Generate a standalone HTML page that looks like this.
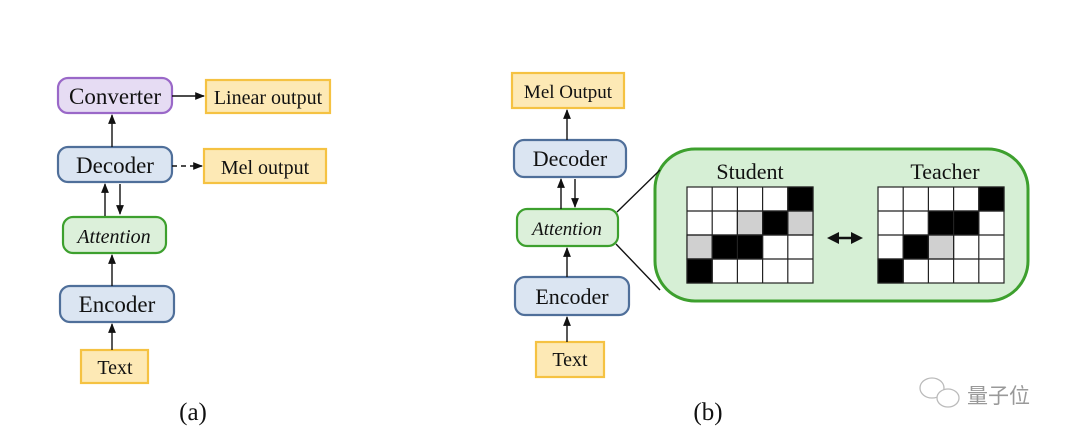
<!DOCTYPE html>
<html><head><meta charset="utf-8"><style>
html,body{margin:0;padding:0;background:#fff;}
svg{display:block;}
text{font-family:"Liberation Serif",serif;fill:#111;}
</style></head><body>
<svg width="1080" height="440" viewBox="0 0 1080 440" xmlns="http://www.w3.org/2000/svg">
<defs>
<marker id="ah" viewBox="0 0 10 10" refX="9" refY="5" markerWidth="7" markerHeight="7" orient="auto-start-reverse"><path d="M0,1 L10,5 L0,9 z" fill="#111"/></marker>
</defs>
<g stroke-width="2.2">
<rect x="58" y="78" width="114" height="35" rx="10" fill="#e6dcf3" stroke="#9a68c8"/>
<rect x="206" y="80" width="124" height="33" fill="#fde9b5" stroke="#f5c242"/>
<rect x="58" y="147" width="114" height="35" rx="10" fill="#dbe5f2" stroke="#4f6f9a"/>
<rect x="204" y="149" width="122" height="34" fill="#fde9b5" stroke="#f5c242"/>
<rect x="63" y="217" width="103" height="36" rx="10" fill="#dcf0da" stroke="#3da02e"/>
<rect x="60" y="286" width="114" height="36" rx="10" fill="#dbe5f2" stroke="#4f6f9a"/>
<rect x="81" y="350" width="67" height="33" fill="#fde9b5" stroke="#f5c242"/>
<rect x="512" y="73" width="112" height="35" fill="#fde9b5" stroke="#f5c242"/>
<rect x="514" y="140" width="112" height="37" rx="10" fill="#dbe5f2" stroke="#4f6f9a"/>
<rect x="517" y="209" width="101" height="37" rx="10" fill="#dcf0da" stroke="#3da02e"/>
<rect x="515" y="277" width="114" height="38" rx="10" fill="#dbe5f2" stroke="#4f6f9a"/>
<rect x="536" y="342" width="68" height="35" fill="#fde9b5" stroke="#f5c242"/>
<rect x="655" y="149" width="373" height="152" rx="40" fill="#d6efd5" stroke="#3da02e" stroke-width="3"/>
</g>
<g stroke="#111" stroke-width="1.4" fill="none">
<line x1="172" y1="96" x2="204" y2="96" marker-end="url(#ah)"/>
<line x1="112" y1="147" x2="112" y2="115" marker-end="url(#ah)"/>
<line x1="172" y1="166" x2="202" y2="166" stroke-dasharray="5,4" marker-end="url(#ah)"/>
<line x1="105" y1="216" x2="105" y2="184" marker-end="url(#ah)"/>
<line x1="120" y1="184" x2="120" y2="214" marker-end="url(#ah)"/>
<line x1="112" y1="286" x2="112" y2="255" marker-end="url(#ah)"/>
<line x1="112" y1="350" x2="112" y2="324" marker-end="url(#ah)"/>
<line x1="567" y1="140" x2="567" y2="110" marker-end="url(#ah)"/>
<line x1="561" y1="209" x2="561" y2="179" marker-end="url(#ah)"/>
<line x1="575" y1="179" x2="575" y2="207" marker-end="url(#ah)"/>
<line x1="567" y1="277" x2="567" y2="248" marker-end="url(#ah)"/>
<line x1="567" y1="342" x2="567" y2="317" marker-end="url(#ah)"/>
<line x1="617" y1="212" x2="660" y2="170"/>
<line x1="616" y1="244" x2="660" y2="290"/>
</g>
<line x1="834" y1="238" x2="856" y2="238" stroke="#111" stroke-width="2.5"/>
<path d="M827,238 L839,232 L839,244 Z M863,238 L851,232 L851,244 Z" fill="#111"/>
<g stroke="#222" stroke-width="1.2">
<g transform="translate(687,187)">
<rect x="0" y="0" width="126" height="96" fill="#fff"/>
<rect x="100.8" y="0" width="25.2" height="24" fill="#000"/>
<rect x="50.4" y="24" width="25.2" height="24" fill="#d0d0d0"/>
<rect x="75.6" y="24" width="25.2" height="24" fill="#000"/>
<rect x="100.8" y="24" width="25.2" height="24" fill="#d0d0d0"/>
<rect x="0" y="48" width="25.2" height="24" fill="#d0d0d0"/>
<rect x="25.2" y="48" width="50.4" height="24" fill="#000"/>
<rect x="0" y="72" width="25.2" height="24" fill="#000"/>
<path d="M25.2 0V96M50.4 0V96M75.6 0V96M100.8 0V96M0 24H126M0 48H126M0 72H126" fill="none"/>
</g>
<g transform="translate(878,187)">
<rect x="0" y="0" width="126" height="96" fill="#fff"/>
<rect x="100.8" y="0" width="25.2" height="24" fill="#000"/>
<rect x="50.4" y="24" width="50.4" height="24" fill="#000"/>
<rect x="25.2" y="48" width="25.2" height="24" fill="#000"/>
<rect x="50.4" y="48" width="25.2" height="24" fill="#d0d0d0"/>
<rect x="0" y="72" width="25.2" height="24" fill="#000"/>
<path d="M25.2 0V96M50.4 0V96M75.6 0V96M100.8 0V96M0 24H126M0 48H126M0 72H126" fill="none"/>
</g>
</g>
<g text-anchor="middle">
<text x="115" y="104" font-size="23">Converter</text>
<text x="268" y="104" font-size="20">Linear output</text>
<text x="115" y="173" font-size="23">Decoder</text>
<text x="265" y="174" font-size="20">Mel output</text>
<text x="114" y="243" font-style="italic" font-size="20">Attention</text>
<text x="117" y="312" font-size="23">Encoder</text>
<text x="115" y="374" font-size="20">Text</text>
<text x="568" y="98" font-size="19">Mel Output</text>
<text x="570" y="166" font-size="22">Decoder</text>
<text x="567" y="235" font-style="italic" font-size="19">Attention</text>
<text x="572" y="304" font-size="22">Encoder</text>
<text x="570" y="366" font-size="20">Text</text>
<text x="750" y="179" font-size="22">Student</text>
<text x="945" y="179" font-size="22">Teacher</text>
<text x="193" y="420" font-size="25">(a)</text>
<text x="708" y="420" font-size="25">(b)</text>
</g>
<g fill="none" stroke="#bbb" stroke-width="1.3">
<ellipse cx="932" cy="388" rx="12" ry="10"/>
<ellipse cx="948" cy="398" rx="11" ry="9" fill="#fff"/>
</g>
<text x="967" y="403" font-size="21" style="font-family:'Noto Sans CJK SC',sans-serif;fill:#999">量子位</text>
</svg>
</body></html>
